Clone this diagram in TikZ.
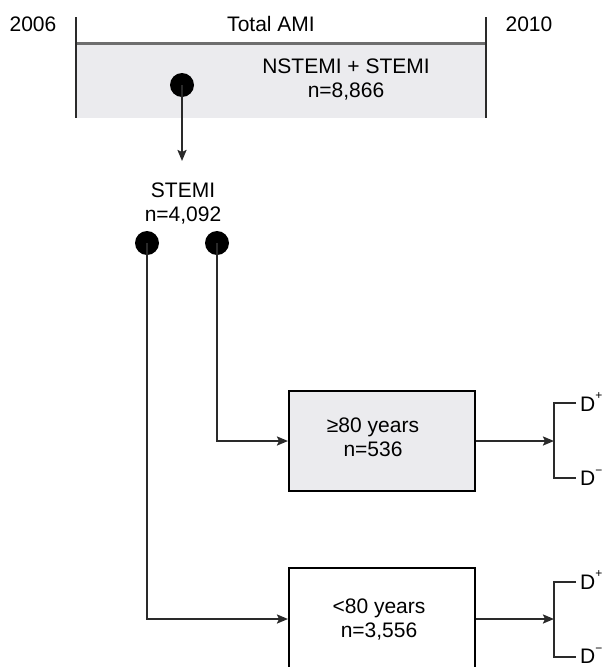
\documentclass[tikz,border=0pt]{standalone}
\usepackage{fontspec}
\setmainfont{Liberation Sans}
\usetikzlibrary{arrows.meta}
\definecolor{boxgray}{HTML}{EBEBEE}
\definecolor{bargray}{HTML}{6E6E6E}
\definecolor{linegray}{HTML}{2A2A2A}
\newcommand{\supsign}[1]{\raisebox{0.55em}{\fontsize{12}{12}\selectfont #1}}
\begin{document}
\begin{tikzpicture}[x=1pt,y=-1pt,
  every node/.style={font=\fontsize{21}{24}\selectfont, inner sep=0pt, align=center},
  conn/.style={line width=2pt, draw=linegray},
  arr/.style={conn, -{Stealth[length=11pt,width=9pt,inset=2pt]}},
  dotmark/.style={circle, fill=black, minimum size=24pt},
  agebox/.style={draw=black, line width=2pt, fill=#1, minimum width=186pt, minimum height=100pt},
  bracketline/.style={line width=2pt, draw=linegray}]
\useasboundingbox (0,0) rectangle (603,667);
% top timeline band
\fill[boxgray] (76,43) rectangle (486,118);
\draw[line width=3pt, bargray] (76,43) -- (486,43);
\draw[line width=2pt, linegray] (76,17) -- (76,118);
\draw[line width=2pt, linegray] (486,17) -- (486,118);
\node (y2006) at (33,24) {2006};
\node (total) at (271,24) {Total AMI};
\node (y2010) at (529,24) {2010};
\node (all) at (346,80) {NSTEMI + STEMI\\n=8,866};
% STEMI
\node[dotmark] (dotA) at (182,85) {};
\coordinate (stemiIn) at (182,161);
\draw[arr] (dotA.center) -- (stemiIn);
\node (stemi) at (183,204) {STEMI\\n=4,092};
\node[dotmark] (dotL) at (147,243) {};
\node[dotmark] (dotR) at (217,243) {};
% age boxes
\node[agebox=boxgray] (old) at (382,441) {};
\node (oldtxt) at (373,437) {≥80 years\\n=536};
\node[agebox=white, minimum height=102pt] (young) at (382,619) {};
\node (youngtxt) at (379,620) {<80 years\\n=3,556};
\draw[arr] (dotR.center) |- (old.west);
\draw[arr] (dotL.center) |- (young.west);
% brackets
\coordinate (bA) at (554,441);
\coordinate (bB) at (554,619);
\draw[arr] (old.east) -- (bA);
\draw[arr] (young.east) -- (bB);
\draw[bracketline] (576,403) -- (554,403) -- (554,478) -- (576,478);
\draw[bracketline] (576,582) -- (554,582) -- (554,657) -- (576,657);
\node[anchor=west] (dpA) at (580,402) {D\supsign{+}};
\node[anchor=west] (dmA) at (580,478) {D\supsign{−}};
\node[anchor=west] (dpB) at (580,580) {D\supsign{+}};
\node[anchor=west] (dmB) at (580,656) {D\supsign{−}};
\end{tikzpicture}
\end{document}
